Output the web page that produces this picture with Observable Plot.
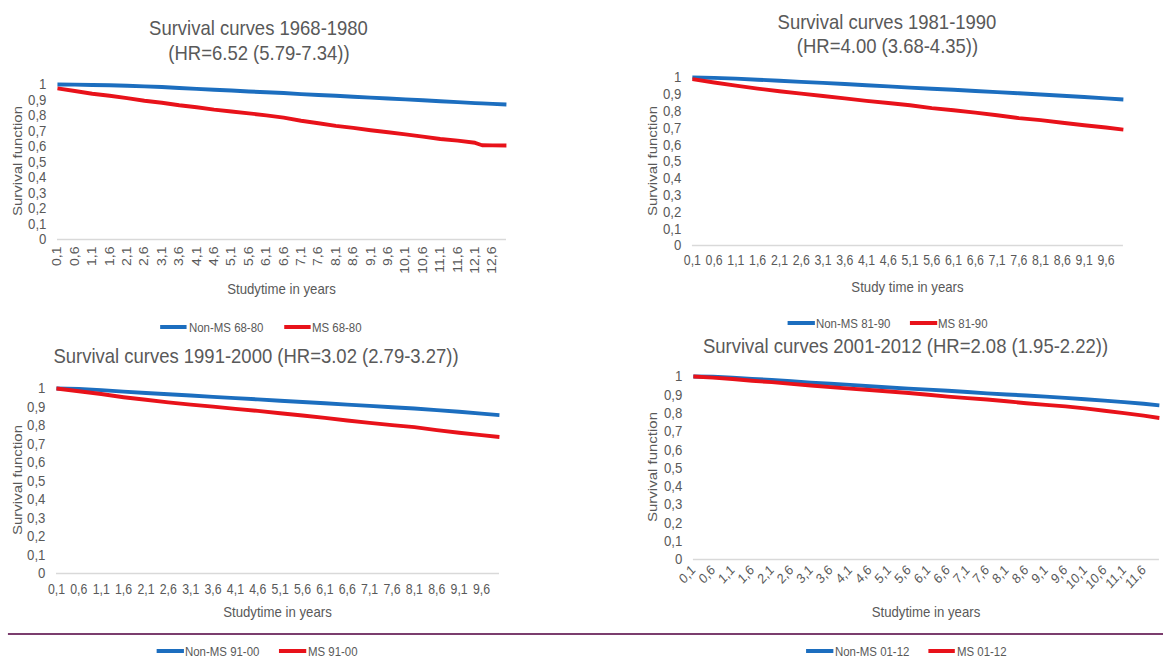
<!DOCTYPE html>
<html>
<head>
<meta charset="utf-8">
<script src="https://cdn.jsdelivr.net/npm/d3@7"></script>
<script src="https://cdn.jsdelivr.net/npm/@observablehq/plot@0.6"></script>
<style>
html,body{margin:0;padding:0;background:#fff;overflow:hidden;width:1163px;height:660px;}
#stage{position:absolute;left:0;top:0;width:1322px;height:660px;transform:scaleX(0.88);transform-origin:0 0;
  font-family:"Liberation Sans",Arial,sans-serif;color:#595959;}
.t{position:absolute;white-space:nowrap;line-height:1;transform:translate(-50%,-50%);}
.r{position:absolute;white-space:nowrap;line-height:1;transform:translate(-50%,-50%) rotate(-90deg);}
.lg{position:absolute;white-space:nowrap;line-height:1;transform:translateY(-50%);font-size:13px;}
.sw{position:absolute;height:4px;}
.panel{position:absolute;}
#stage svg text.yt{font-size:15px !important;}
#stage svg text.xt{font-size:14px !important;}
</style>
</head>
<body>
<div id="stage"></div>
<script>
// ---------- data ----------
const years6880 = [0.1,0.6,1.1,1.6,2.1,2.6,3.1,3.6,4.1,4.6,5.1,5.6,6.1,6.6,7.1,7.6,8.1,8.6,9.1,9.6,10.1,10.6,11.1,11.6,12.1,12.3,12.6,13.0];
const nonMS6880 = [1.000,0.999,0.997,0.995,0.992,0.988,0.984,0.977,0.972,0.966,0.961,0.955,0.950,0.945,0.938,0.932,0.927,0.921,0.915,0.910,0.904,0.898,0.892,0.886,0.880,0.878,0.875,0.871];
const ms6880    = [0.975,0.958,0.940,0.927,0.912,0.895,0.882,0.866,0.853,0.838,0.826,0.814,0.801,0.786,0.766,0.750,0.733,0.720,0.705,0.692,0.678,0.664,0.648,0.638,0.624,0.608,0.607,0.606];

const years8190 = [0.1,0.6,1.1,1.6,2.1,2.6,3.1,3.6,4.1,4.6,5.1,5.6,6.1,6.6,7.1,7.6,8.1,8.6,9.1,9.6,10.0];
const nonMS8190 = [1.000,0.998,0.993,0.987,0.981,0.974,0.968,0.961,0.954,0.947,0.940,0.933,0.927,0.920,0.913,0.906,0.899,0.891,0.884,0.876,0.869];
const ms8190    = [0.990,0.970,0.952,0.934,0.918,0.904,0.890,0.876,0.861,0.848,0.835,0.818,0.805,0.791,0.775,0.758,0.746,0.731,0.716,0.702,0.690];

const years9100 = [0.1,0.6,1.1,1.6,2.1,2.6,3.1,3.6,4.1,4.6,5.1,5.6,6.1,6.6,7.1,7.6,8.1,8.6,9.1,9.6,10.0];
const nonMS9100 = [1.000,0.998,0.991,0.983,0.976,0.969,0.962,0.955,0.948,0.941,0.934,0.927,0.920,0.913,0.906,0.899,0.892,0.883,0.874,0.864,0.856];
const ms9100    = [1.000,0.985,0.970,0.953,0.939,0.925,0.913,0.902,0.890,0.879,0.866,0.854,0.841,0.827,0.814,0.802,0.791,0.775,0.761,0.748,0.738];

const years0112 = [0.1,0.6,1.1,1.6,2.1,2.6,3.1,3.6,4.1,4.6,5.1,5.6,6.1,6.6,7.1,7.6,8.1,8.6,9.1,9.6,10.1,10.6,11.1,11.6,12.0];
const nonMS0112 = [1.000,0.999,0.993,0.987,0.981,0.974,0.966,0.960,0.954,0.947,0.940,0.934,0.928,0.922,0.915,0.908,0.902,0.896,0.890,0.883,0.876,0.868,0.860,0.851,0.842];
const ms0112    = [1.000,0.994,0.986,0.977,0.969,0.960,0.951,0.942,0.934,0.926,0.918,0.910,0.900,0.890,0.882,0.874,0.865,0.854,0.845,0.837,0.826,0.813,0.800,0.786,0.773];

const ticks6880 = [0.1,0.6,1.1,1.6,2.1,2.6,3.1,3.6,4.1,4.6,5.1,5.6,6.1,6.6,7.1,7.6,8.1,8.6,9.1,9.6,10.1,10.6,11.1,11.6,12.1,12.6];
const ticks8190 = [0.1,0.6,1.1,1.6,2.1,2.6,3.1,3.6,4.1,4.6,5.1,5.6,6.1,6.6,7.1,7.6,8.1,8.6,9.1,9.6];
const ticks9100 = [0.1,0.6,1.1,1.6,2.1,2.6,3.1,3.6,4.1,4.6,5.1,5.6,6.1,6.6,7.1,7.6,8.1,8.6,9.1,9.6];
const ticks0112 = [0.1,0.6,1.1,1.6,2.1,2.6,3.1,3.6,4.1,4.6,5.1,5.6,6.1,6.6,7.1,7.6,8.1,8.6,9.1,9.6,10.1,10.6,11.1,11.6];
const yTicks = [0,0.1,0.2,0.3,0.4,0.5,0.6,0.7,0.8,0.9,1];

const titles = [
  ["Survival curves 1968-1980", "(HR=6.52 (5.79-7.34))"],
  ["Survival curves 1981-1990", "(HR=4.00 (3.68-4.35))"],
  ["Survival curves 1991-2000 (HR=3.02 (2.79-3.27))"],
  ["Survival curves 2001-2012 (HR=2.08 (1.95-2.22))"]
];
const xTitles = ["Studytime in years", "Study time in years", "Studytime in years", "Studytime in years"];
const yTitle = "Survival function";
const seriesNames = [
  ["Non-MS 68-80", "MS 68-80"],
  ["Non-MS 81-90", "MS 81-90"],
  ["Non-MS 91-00", "MS 91-00"],
  ["Non-MS 01-12", "MS 01-12"]
];
const BLUE = "#1c6ebf", RED = "#e8121a";

// ---------- helpers ----------
const K = 0.88;              // horizontal squeeze of the original slide
const ix = v => v / K;
const fmt = d => String(+(+d).toFixed(1)).replace(".", ",");
const stage = document.getElementById("stage");

function addText(cls, txt, x, y, size, extra) {
  const el = document.createElement("div");
  el.className = cls;
  el.textContent = txt;
  el.style.left = ix(x) + "px";
  el.style.top = y + "px";
  el.style.fontSize = size + "px";
  if (extra) Object.assign(el.style, extra);
  stage.appendChild(el);
}
function rows(years, vals, name) { return years.map((t, i) => ({t, v: vals[i], s: name})); }

function panel(cfg) {
  const W = cfg.right - cfg.left, H = cfg.bottom - cfg.top;
  const [nA, nB] = cfg.names;
  const data = rows(cfg.years, cfg.a, nA).concat(rows(cfg.years, cfg.b, nB));
  const chart = Plot.plot({
    width: ix(W), height: H,
    marginLeft: ix(cfg.plotL - cfg.left), marginRight: ix(cfg.right - cfg.plotR),
    marginTop: cfg.y1 - cfg.top, marginBottom: cfg.bottom - cfg.y0,
    x: {domain: cfg.domain, label: null},
    y: {domain: [0, 1], label: null},
    color: {domain: [nA, nB], range: [BLUE, RED]},
    style: {fontFamily: '"Liberation Sans", Arial, sans-serif', color: "#595959", background: "transparent", overflow: "visible"},
    marks: [
      Plot.ruleY([0], {stroke: "#d9d9d9", strokeWidth: 1.4}),
      Plot.axisY({ticks: yTicks, tickFormat: fmt, tickSize: 0, tickPadding: ix(11), label: null, className: "yax"}),
      Plot.axisX({ticks: cfg.ticks, tickFormat: fmt, tickSize: 0, tickPadding: cfg.pad, tickRotate: cfg.rotate, label: null}),
      Plot.line(data, {x: "t", y: "v", z: "s", stroke: "s", strokeWidth: 3.9, strokeLinejoin: "round", strokeLinecap: "butt"})
    ]
  });
  // enlarge tick labels: y-axis labels are anchored "end" and unrotated, the rest belong to x
  chart.querySelectorAll("text").forEach(tx => {
    const s = tx.textContent.trim();
    const v = +s.replace(",", ".");
    const g = tx.closest("g");
    const lab = (g && g.getAttribute("aria-label")) || "";
    if (lab.startsWith("y-axis")) tx.setAttribute("class", "yt");
    else if (lab.startsWith("x-axis")) tx.setAttribute("class", "xt");
    else if (yTicks.includes(v)) tx.setAttribute("class", "yt");
    else tx.setAttribute("class", "xt");
  });
  const wrap = document.createElement("div");
  wrap.className = "panel";
  wrap.style.left = ix(cfg.left) + "px";
  wrap.style.top = cfg.top + "px";
  wrap.appendChild(chart);
  stage.appendChild(wrap);
}

// ---------- panels ----------
panel({left: 0, right: 580, top: 65, bottom: 300, plotL: 57, plotR: 506, y1: 84, y0: 239,
  domain: [0.1, 13.0], ticks: ticks6880, rotate: -90, pad: 7, years: years6880, a: nonMS6880, b: ms6880, names: seriesNames[0]});
panel({left: 580, right: 1163, top: 60, bottom: 300, plotL: 692, plotR: 1123, y1: 77, y0: 245,
  domain: [0.1, 10.0], ticks: ticks8190, rotate: 0, pad: 10, years: years8190, a: nonMS8190, b: ms8190, names: seriesNames[1]});
panel({left: 0, right: 580, top: 370, bottom: 628, plotL: 56, plotR: 499, y1: 388, y0: 573,
  domain: [0.1, 10.0], ticks: ticks9100, rotate: 0, pad: 11, years: years9100, a: nonMS9100, b: ms9100, names: seriesNames[2]});
panel({left: 580, right: 1163, top: 360, bottom: 628, plotL: 693, plotR: 1159, y1: 376, y0: 559,
  domain: [0.1, 12.0], ticks: ticks0112, rotate: -45, pad: 8, years: years0112, a: nonMS0112, b: ms0112, names: seriesNames[3]});

// ---------- titles ----------
addText("t", titles[0][0], 258.5, 27, 21);
addText("t", titles[0][1], 259, 52, 21);
addText("t", titles[1][0], 887, 21, 21);
addText("t", titles[1][1], 887.5, 45, 21);
addText("t", titles[2][0], 256, 355, 21);
addText("t", titles[3][0], 905.5, 345, 21);

// ---------- axis titles ----------
addText("t", xTitles[0], 281.5, 288, 15);
addText("t", xTitles[1], 907.5, 286, 15);
addText("t", xTitles[2], 277.5, 611, 15);
addText("t", xTitles[3], 926, 611, 15);
addText("r", yTitle, 18, 161, 15);
addText("r", yTitle, 652, 161, 15);
addText("r", yTitle, 16.5, 480, 15);
addText("r", yTitle, 652, 467, 15);

// ---------- separator ----------
const sep = document.createElement("div");
Object.assign(sep.style, {position: "absolute", left: ix(8) + "px", top: "633px", width: ix(1155) + "px", height: "2px", background: "#7b3d6e"});
stage.appendChild(sep);

// ---------- legends ----------
function legend(y, bx, tx, rx, rtx, names) {
  for (const [x, c] of [[bx, BLUE], [rx, RED]]) {
    const s = document.createElement("div");
    s.className = "sw";
    Object.assign(s.style, {left: ix(x) + "px", top: (y - 2) + "px", width: ix(27) + "px", background: c});
    stage.appendChild(s);
  }
  addText("lg", names[0], tx, y, 13);
  addText("lg", names[1], rtx, y, 13);
}
legend(327, 160, 189, 284, 312, seriesNames[0]);
legend(323, 788, 816, 910, 938, seriesNames[1]);
legend(651, 157, 185, 279, 308, seriesNames[2]);
legend(651, 806, 835, 928, 957, seriesNames[3]);
</script>
</body>
</html>
